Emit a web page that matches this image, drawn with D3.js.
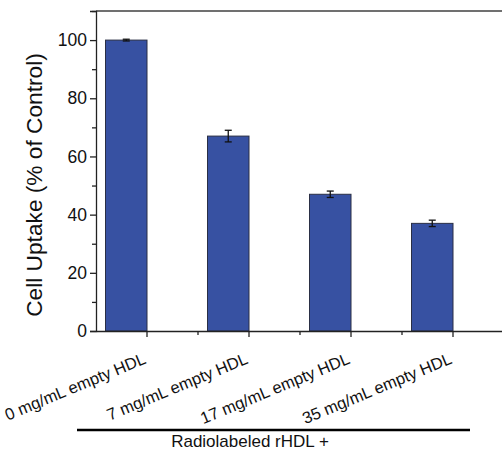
<!DOCTYPE html>
<html>
<head>
<meta charset="utf-8">
<script src="https://cdn.jsdelivr.net/npm/d3@7"></script>
<style>
  html, body { margin: 0; padding: 0; background: #fff; }
  svg { display: block; font-family: Arial, "Liberation Sans", sans-serif; }
</style>
</head>
<body>
<svg id="chart" width="502" height="452"></svg>
<script>
const categories = ["0 mg/mL empty HDL", "7 mg/mL empty HDL", "17 mg/mL empty HDL", "35 mg/mL empty HDL"];
const values = [100, 67, 47, 37];
const errors = [0.3, 2.0, 1.1, 1.1];
const yTicks = [0, 20, 40, 60, 80, 100];
const yMinorTicks = [10, 30, 50, 70, 90, 110];
const yLabel = "Cell Uptake (% of Control)";
const groupLabel = "Radiolabeled rHDL +";

const svg = d3.select("#chart");
const W = 502, H = 452;
const m = { left: 96, top: 11, right: 504, bottom: 331 };

const x = d3.scaleBand().domain(categories).range([m.left, m.right]);
const y = d3.scaleLinear().domain([0, 110]).range([m.bottom, m.top]);
const barW = 41.5;

// top frame line
svg.append("line")
  .attr("x1", m.left).attr("x2", W).attr("y1", y(110)).attr("y2", y(110))
  .attr("stroke", "#707070").attr("stroke-width", 2);

// bars
svg.append("g").selectAll("rect").data(categories).join("rect")
  .attr("x", d => x(d) + x.bandwidth() / 2 - barW)
  .attr("y", (d, i) => y(values[i]))
  .attr("width", barW)
  .attr("height", (d, i) => y(0) - y(values[i]))
  .attr("fill", "#3751a2")
  .attr("stroke", "#2a2f45")
  .attr("stroke-width", 1);

// error bars
const eg = svg.append("g").attr("stroke", "#111").attr("stroke-width", 1.3);
categories.forEach((c, i) => {
  const cx = x(c) + x.bandwidth() / 2 - barW / 2;
  const y1 = y(values[i] + errors[i]), y2 = y(values[i] - errors[i]);
  eg.append("line").attr("x1", cx).attr("x2", cx).attr("y1", y1).attr("y2", y2);
  eg.append("line").attr("x1", cx - 3.5).attr("x2", cx + 3.5).attr("y1", y1).attr("y2", y1);
  eg.append("line").attr("x1", cx - 3.5).attr("x2", cx + 3.5).attr("y1", y2).attr("y2", y2);
});

// y axis
const yAxis = svg.append("g").attr("transform", `translate(${m.left},0)`)
  .call(d3.axisLeft(y).tickValues(yTicks).tickSize(6).tickPadding(3).tickFormat(d3.format("d")));
yAxis.select(".domain").attr("stroke", "#222").attr("stroke-width", 1.3);
yAxis.selectAll(".tick line").attr("stroke", "#222").attr("stroke-width", 1.3);
yAxis.selectAll(".tick text").attr("font-size", 17.5).attr("fill", "#111")
  .attr("font-family", "Arial, 'Liberation Sans', sans-serif");
svg.append("g").attr("transform", `translate(${m.left},0)`)
  .call(d3.axisLeft(y).tickValues(yMinorTicks).tickSize(4).tickFormat(""))
  .call(g => g.select(".domain").remove())
  .selectAll(".tick line").attr("stroke", "#222").attr("stroke-width", 1.3);

// x axis
const xAxis = svg.append("g").attr("transform", `translate(0,${m.bottom})`)
  .call(d3.axisBottom(x).tickSize(6).tickSizeOuter(0).tickFormat(""));
xAxis.select(".domain").attr("stroke", "#222").attr("stroke-width", 1.3);
xAxis.selectAll(".tick line").attr("stroke", "#222").attr("stroke-width", 1.3);
// minor x ticks at band boundaries
const bounds = categories.slice(1).map(c => x(c));
svg.append("g").selectAll("line").data(bounds).join("line")
  .attr("x1", d => d).attr("x2", d => d)
  .attr("y1", m.bottom).attr("y2", m.bottom + 4)
  .attr("stroke", "#222").attr("stroke-width", 1.3);

// rotated category labels
svg.append("g").selectAll("text").data(categories).join("text")
  .attr("transform", d => `translate(${x(d) + x.bandwidth() / 2},${m.bottom + 32}) rotate(-22.5)`)
  .attr("text-anchor", "end")
  .attr("font-size", 16.5)
  .attr("fill", "#111")
  .text(d => d);

// y label
svg.append("text")
  .attr("transform", `translate(42,185) rotate(-90)`)
  .attr("text-anchor", "middle")
  .attr("font-size", 22.7)
  .attr("fill", "#111")
  .text(yLabel);

// group line and label
svg.append("line")
  .attr("x1", 77).attr("x2", 470).attr("y1", 430).attr("y2", 430)
  .attr("stroke", "#000").attr("stroke-width", 2.5);
svg.append("text")
  .attr("x", 250).attr("y", 447)
  .attr("text-anchor", "middle")
  .attr("font-size", 17)
  .attr("fill", "#111")
  .text(groupLabel);
</script>
</body>
</html>
